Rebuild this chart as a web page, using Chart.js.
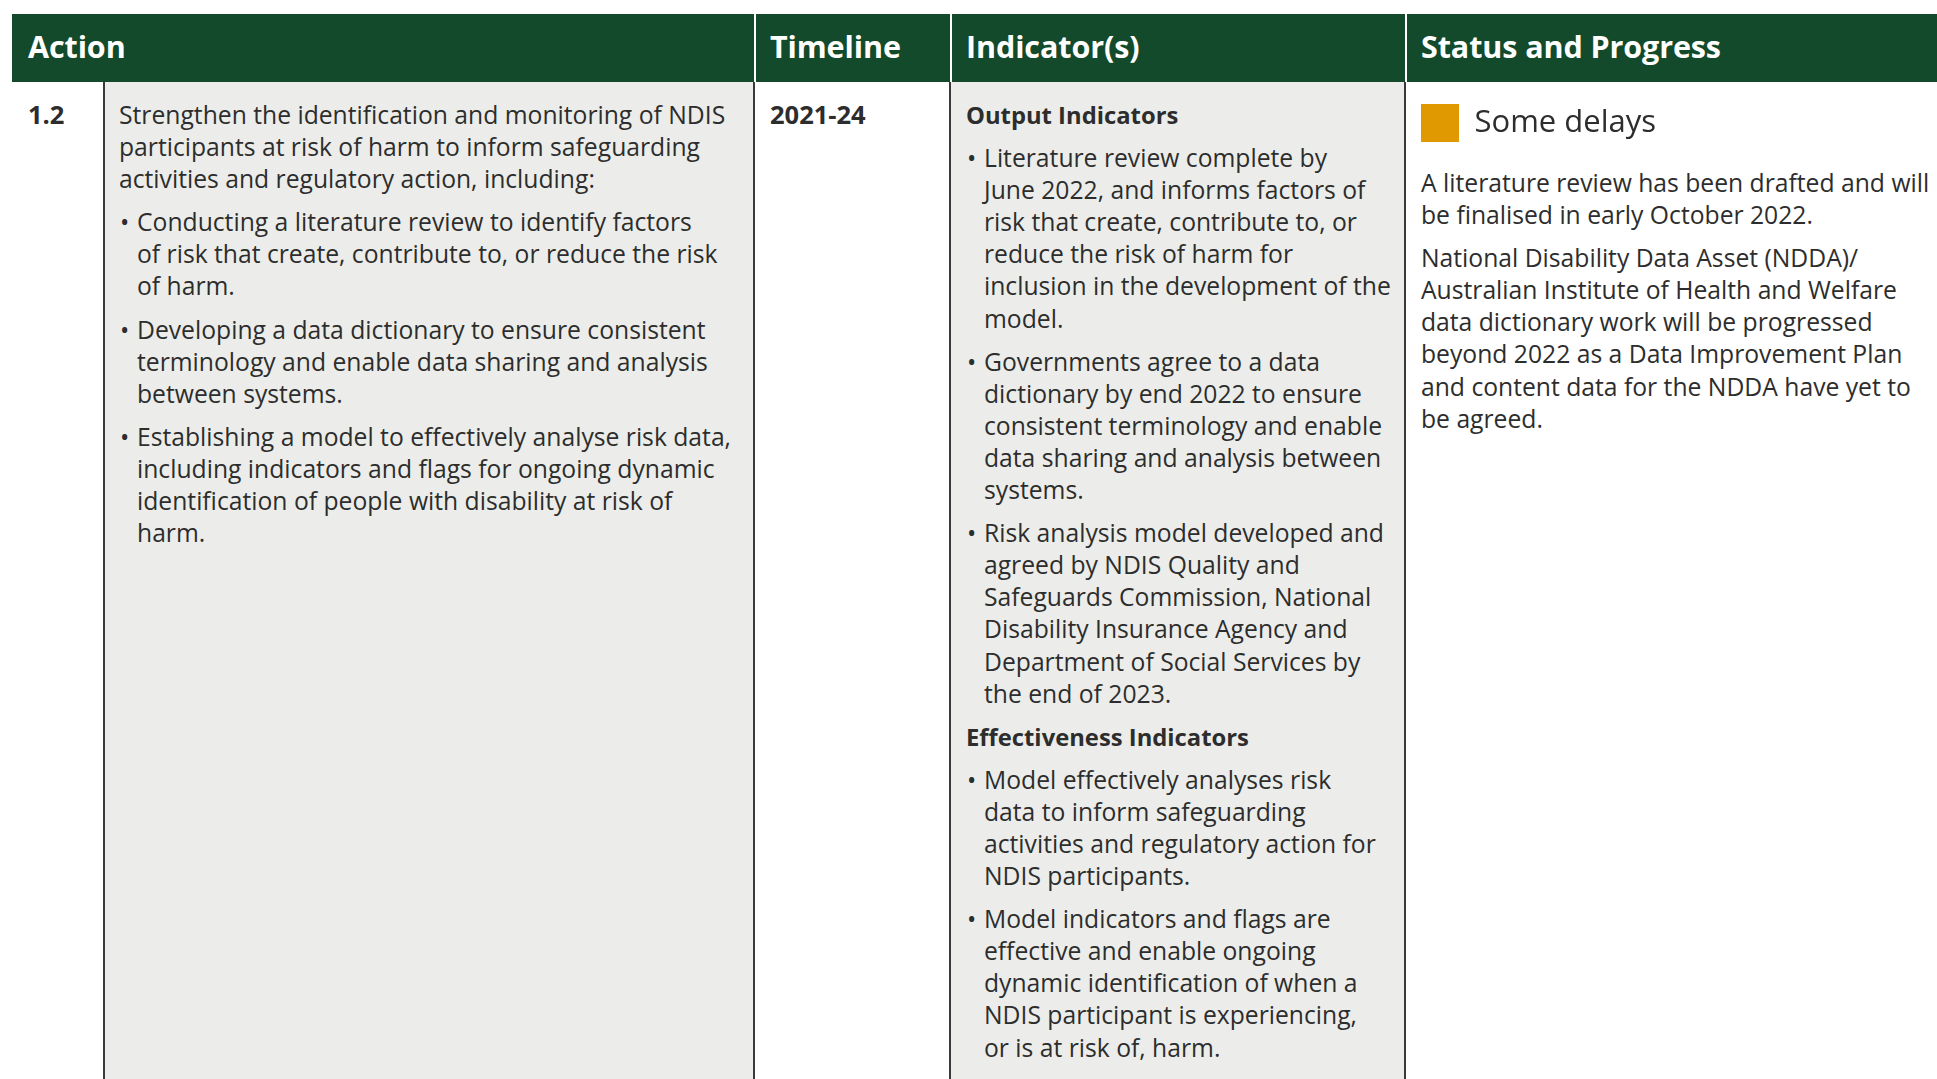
<!DOCTYPE html>
<html>
<head>
<meta charset="utf-8">
<script src="https://cdn.jsdelivr.net/npm/chart.js@4.4.0/dist/chart.umd.min.js"></script>
<style>
  html, body { margin: 0; padding: 0; background: #fff; }
  body { width: 1937px; height: 1079px; overflow: hidden; position: relative;
         font-family: "Open Sans", "Noto Sans", sans-serif; color: #2d2d2d; }
  .hdr { position: absolute; top: 14px; left: 12px; right: 0; height: 68px; background: #124a2b; }
  .hsep { position: absolute; top: 14px; height: 68px; width: 2px; background: #fff; }
  .htxt { position: absolute; top: 12px; height: 68px; line-height: 68px; color: #fff;
          font-weight: 700; font-size: 30.5px; letter-spacing: -0.1px; }
  .col { position: absolute; top: 82px; bottom: 0; box-sizing: border-box; }
  .gray { background: #ecedea; }
  .vline { position: absolute; top: 82px; bottom: 0; width: 2px; background: #3a3a3a; }
  .cell { position: absolute; top: 99px; font-size: 24.7px; line-height: 32.1px; }
  .cell p { margin: 0 0 11px 0; white-space: nowrap; }
  .cell p.b { padding-left: 18px; position: relative; }
  .cell p.b::before { content: "\2022"; position: absolute; left: 1px; top: 0; }
  .cell p.h { font-weight: 700; font-size: 23.8px; }
  .cell p.k { font-weight: 700; font-size: 25.5px; }
  #statusWrap { position: absolute; left: 1417px; top: 100px; width: 500px; height: 54px; }
</style>
</head>
<body>
<div class="hdr"></div>

<div class="col" style="left:12px; width:92px;"></div>
<div class="col gray" style="left:104px; width:650px;"></div>
<div class="col" style="left:754px; width:196px;"></div>
<div class="col gray" style="left:950px; width:455px;"></div>
<div class="col" style="left:1405px; right:0;"></div>

<div class="vline" style="left:103px;"></div>
<div class="vline" style="left:753px;"></div>
<div class="vline" style="left:949px;"></div>
<div class="vline" style="left:1404px;"></div>

<div class="hsep" style="left:754px;"></div>
<div class="hsep" style="left:950px;"></div>
<div class="hsep" style="left:1405px;"></div>

<div id="headers"></div>
<div id="cells"></div>
<div id="statusWrap"><canvas id="statusChart"></canvas></div>

<script>
// column headings
const headings = ['Action', 'Timeline', 'Indicator(s)', 'Status and Progress'];
const headingX = [28, 770, 966, 1421];

// row content, one line of text per entry as laid out in the report
const actionNo = '1.2';
const timeline = '2021-24';

const actionIntro = [
  'Strengthen the identification and monitoring of NDIS',
  'participants at risk of harm to inform safeguarding',
  'activities and regulatory action, including:'
];
const actionBullets = [
  ['Conducting a literature review to identify factors',
   'of risk that create, contribute to, or reduce the risk',
   'of harm.'],
  ['Developing a data dictionary to ensure consistent',
   'terminology and enable data sharing and analysis',
   'between systems.'],
  ['Establishing a model to effectively analyse risk data,',
   'including indicators and flags for ongoing dynamic',
   'identification of people with disability at risk of',
   'harm.']
];

const outputHeading = 'Output Indicators';
const outputBullets = [
  ['Literature review complete by',
   'June 2022, and informs factors of',
   'risk that create, contribute to, or',
   'reduce the risk of harm for',
   'inclusion in the development of the',
   'model.'],
  ['Governments agree to a data',
   'dictionary by end 2022 to ensure',
   'consistent terminology and enable',
   'data sharing and analysis between',
   'systems.'],
  ['Risk analysis model developed and',
   'agreed by NDIS Quality and',
   'Safeguards Commission, National',
   'Disability Insurance Agency and',
   'Department of Social Services by',
   'the end of 2023.']
];
const effectHeading = 'Effectiveness Indicators';
const effectBullets = [
  ['Model effectively analyses risk',
   'data to inform safeguarding',
   'activities and regulatory action for',
   'NDIS participants.'],
  ['Model indicators and flags are',
   'effective and enable ongoing',
   'dynamic identification of when a',
   'NDIS participant is experiencing,',
   'or is at risk of, harm.']
];

const statusLabels = ['Some delays'];
const statusColors = ['#e09900'];
const statusText = [
  ['A literature review has been drafted and will',
   'be finalised in early October 2022.'],
  ['National Disability Data Asset (NDDA)/',
   'Australian Institute of Health and Welfare',
   'data dictionary work will be progressed',
   'beyond 2022 as a Data Improvement Plan',
   'and content data for the NDDA have yet to',
   'be agreed.']
];

function esc(s) {
  return s.replace(/&/g, '&amp;').replace(/</g, '&lt;');
}
function para(lines, cls) {
  return `<p class="${cls || ''}">${lines.map(esc).join('<br>')}</p>`;
}
function cell(x, top, html) {
  const d = document.createElement('div');
  d.className = 'cell';
  d.style.left = x + 'px';
  if (top != null) d.style.top = top + 'px';
  d.innerHTML = html;
  document.getElementById('cells').appendChild(d);
}

headings.forEach((h, i) => {
  const d = document.createElement('div');
  d.className = 'htxt';
  d.style.left = headingX[i] + 'px';
  d.textContent = h;
  document.getElementById('headers').appendChild(d);
});

cell(28, 98, para([actionNo], 'k'));
cell(119, null, para(actionIntro) + actionBullets.map(b => para(b, 'b')).join(''));
cell(770, 98, para([timeline], 'k'));
cell(966, null,
  para([outputHeading], 'h') + outputBullets.map(b => para(b, 'b')).join('') +
  para([effectHeading], 'h') + effectBullets.map(b => para(b, 'b')).join(''));
cell(1421, 167, statusText.map(p => para(p)).join(''));

// status marker drawn by the chart legend
new Chart(document.getElementById('statusChart'), {
  type: 'bar',
  data: {
    labels: [],
    datasets: statusLabels.map((l, i) => ({ label: l, data: [], backgroundColor: statusColors[i], borderWidth: 0 }))
  },
  options: {
    responsive: false,
    animation: false,
    layout: { padding: 0 },
    scales: { x: { display: false }, y: { display: false } },
    plugins: {
      tooltip: { enabled: false },
      legend: {
        position: 'top',
        align: 'start',
        onClick: null,
        labels: {
          boxWidth: 38,
          boxHeight: 38,
          padding: 4,
          color: '#2d2d2d',
          font: { family: '"Open Sans", sans-serif', size: 31 }
        }
      }
    }
  }
});
</script>
</body>
</html>
